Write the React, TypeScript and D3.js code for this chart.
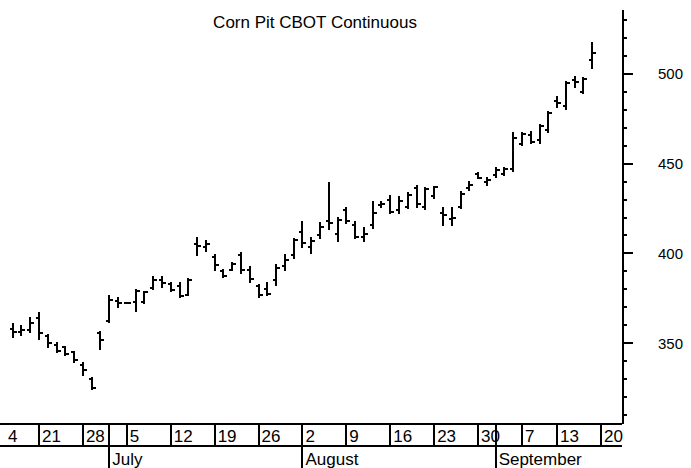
import React from "react";
import * as d3 from "d3";

// ---- Data (CBOT corn, daily OHLC, cents/bu) ----
const title = "Corn Pit CBOT Continuous";
const axisStart = "2010-06-14";
const axisEnd = "2010-09-20";
const holidaysSkipped = ["2010-09-06"];
const firstBar = "2010-06-16";

const open = [358, 356, 357.3, 364, 354, 349, 348, 345, 338, 330, 355.5, 362.5, 373.5, 372.5, 373, 373, 380.5, 385, 383, 382, 377, 405, 403.5, 398, 390, 391, 399, 391, 382, 380, 385, 393, 399, 412, 403.5, 410, 418, 411, 424, 416, 409, 416, 427, 430, 424, 426, 436.3, 426, 432, 422.8, 419, 426, 436.3, 444.5, 440, 443.5, 444, 447, 461, 466, 463, 469, 485, 482, 496.5, 490, 507.8];
const high = [360.6, 359.5, 363.8, 366.6, 354.5, 350, 348, 345.2, 338.7, 330.4, 356.4, 376, 375, 372.5, 379.6, 378.7, 386.7, 386.7, 383.3, 383.3, 385.6, 408.4, 407.1, 399.1, 390.7, 394.5, 400, 392.6, 382.4, 383.3, 393.5, 399.1, 407.9, 417.7, 408.4, 416.8, 439, 419.6, 425.1, 417.7, 414, 428.9, 428.9, 432, 431.3, 433.5, 437.8, 436.7, 437.3, 425.5, 425.1, 434.4, 440, 444.6, 442.2, 447.4, 447.4, 466.9, 467, 467.9, 471.6, 479, 487.4, 495.7, 498.5, 497.6, 517.1];
const low = [353.6, 354.5, 356.4, 352.1, 348, 345.2, 343.4, 339.7, 332.2, 324.3, 346.6, 362, 370.3, 372.5, 368, 372.2, 380, 381.5, 379.2, 375.9, 376.8, 399.1, 401.5, 390.7, 387, 390.7, 389.3, 384.2, 375.9, 376.8, 382.4, 390.7, 397.3, 403.7, 400.4, 408.4, 413.4, 407.1, 417.1, 408.4, 407.1, 414, 425.7, 422.7, 422.7, 425.1, 426.1, 424.8, 430.7, 415.8, 415.8, 425.1, 435.3, 441.9, 438.1, 442.8, 443.7, 446, 460.5, 461.4, 461.4, 467.9, 481.8, 480.5, 493, 489.2, 503.2];
const close = [356.4, 357.3, 361, 355.5, 350, 345.5, 344, 340.5, 335, 325, 352, 374, 372.6, 372.5, 379, 378.3, 385, 383.4, 379.5, 376.5, 385, 404.1, 405, 393.5, 387.5, 394, 391, 385.5, 377, 377.5, 391.7, 396.3, 407.5, 405.6, 407, 415, 417.2, 418.5, 418, 409, 411, 422.4, 427.5, 423.3, 429, 432.5, 427.5, 436, 437, 421.6, 419.5, 433, 438, 442, 441, 446.5, 447, 464.2, 466.5, 462, 471, 478.5, 483.6, 495, 495.8, 497, 512];

const weekLabelDates = ["2010-06-14", "2010-06-21", "2010-06-28", "2010-07-05", "2010-07-12", "2010-07-19", "2010-07-26", "2010-08-02", "2010-08-09", "2010-08-16", "2010-08-23", "2010-08-30", "2010-09-07", "2010-09-13", "2010-09-20"];
const weekLabels = ["4", "21", "28", "5", "12", "19", "26", "2", "9", "16", "23", "30", "7", "13", "20"];
const monthDates = ["2010-07-01", "2010-08-02", "2010-09-01"];
const monthLabels = ["July", "August", "September"];
const yTicks = [350, 400, 450, 500];

const W = 691;
const H = 468;

export default function App() {
  const fmt = d3.timeFormat("%Y-%m-%d");
  const parse = d3.timeParse("%Y-%m-%d");
  const sessions = d3
    .timeDays(parse(axisStart)!, d3.timeDay.offset(parse(axisEnd)!, 1))
    .filter((d) => d.getDay() !== 0 && d.getDay() !== 6)
    .map(fmt)
    .filter((s) => !holidaysSkipped.includes(s));
  const startIdx = sessions.indexOf(firstBar);
  const barDates = sessions.slice(startIdx, startIdx + open.length);

  const x = d3.scalePoint<string>().domain(sessions).range([-4.9, 601]);
  const y = d3.scaleLinear().domain([304.9, 535.7]).range([424, 10]);

  const axisX = 623;
  const rowTop = 424;
  const rowMid = 446;
  const rowEnd = 622;
  const font = "'Liberation Sans', Arial, sans-serif";

  const minorTicks = d3.range(310, 536, 10);

  return (
    <svg
      width={W}
      height={H}
      style={{ position: "absolute", left: 0, top: 0, background: "#fff" }}
      fontFamily={font}
    >
      <rect width={W} height={H} fill="#fff" />
      <text x={315} y={28} textAnchor="middle" fontSize={17} fill="#000">
        {title}
      </text>

      {/* bars */}
      <g stroke="#000" strokeWidth={2} shapeRendering="crispEdges">
        {barDates.map((d, i) => {
          const cx = Math.round(x(d)!);
          return (
            <g key={d}>
              <line x1={cx} x2={cx} y1={y(high[i]) - 1} y2={y(low[i]) + 1} />
              <line x1={cx - 3} x2={cx} y1={y(open[i])} y2={y(open[i])} />
              <line x1={cx} x2={cx + 4} y1={y(close[i])} y2={y(close[i])} />
            </g>
          );
        })}
      </g>

      {/* right axis */}
      <g stroke="#000" shapeRendering="crispEdges">
        <line x1={axisX} x2={axisX} y1={y.range()[1]} y2={y.range()[0]} strokeWidth={2} />
        {minorTicks.map((v) => (
          <line
            key={v}
            x1={axisX}
            x2={axisX + (v % 50 === 0 ? 10 : 4)}
            y1={Math.round(y(v))}
            y2={Math.round(y(v))}
            strokeWidth={2}
          />
        ))}
      </g>
      {yTicks.map((v) => (
        <text key={v} x={658} y={y(v)} dy="0.36em" fontSize={15} fill="#000">
          {v}
        </text>
      ))}

      {/* bottom date axis */}
      <g stroke="#000" strokeWidth={2} shapeRendering="crispEdges">
        <line x1={0} x2={rowEnd} y1={rowTop} y2={rowTop} />
        <line x1={0} x2={rowEnd} y1={rowMid} y2={rowMid} />
        {weekLabelDates.map((d) => (
          <line key={d} x1={Math.round(x(d)!)} x2={Math.round(x(d)!)} y1={rowTop} y2={rowMid} />
        ))}
        {monthDates.map((d) => (
          <line key={d} x1={Math.round(x(d)!)} x2={Math.round(x(d)!)} y1={rowTop} y2={H} />
        ))}
      </g>
      {weekLabelDates.map((d, i) => (
        <text key={d} x={Math.max(x(d)! + 3, 8)} y={442} fontSize={17} fill="#000">
          {weekLabels[i]}
        </text>
      ))}
      {monthDates.map((d, i) => (
        <text key={d} x={x(d)! + 3} y={465} fontSize={17} fill="#000">
          {monthLabels[i]}
        </text>
      ))}
    </svg>
  );
}
